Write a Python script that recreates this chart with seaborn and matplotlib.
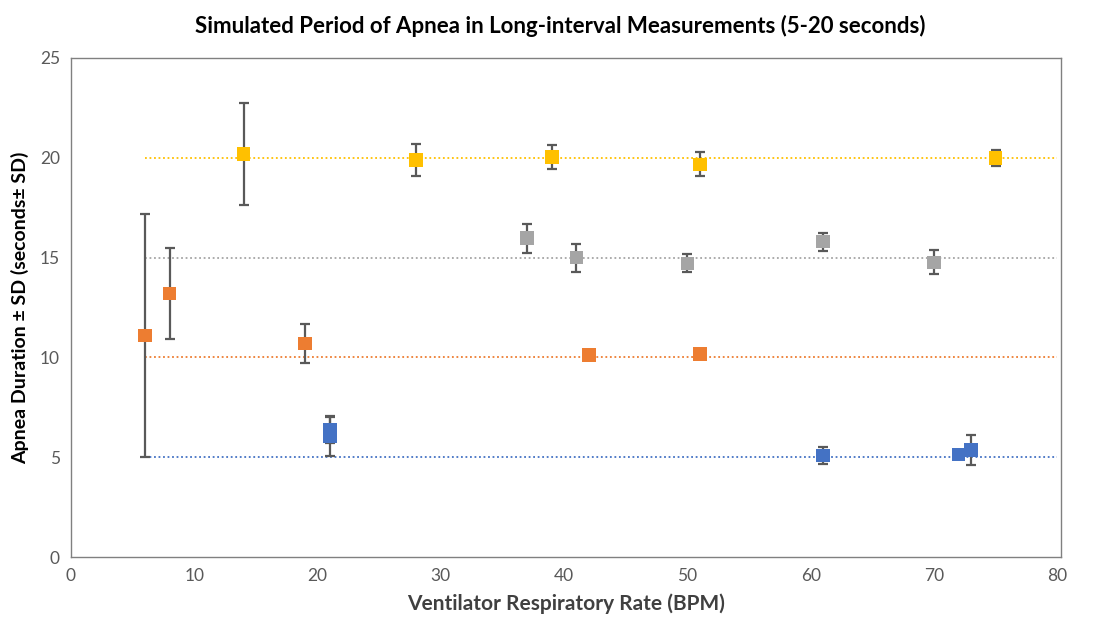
import matplotlib
matplotlib.use("Agg")
import matplotlib.pyplot as plt
import seaborn as sns
import pandas as pd

# Data
series_names = ["5 s", "10 s", "15 s", "20 s"]
series_colors = ["#4472C4", "#ED7D31", "#A5A5A5", "#FFC000"]

blue_x = [21, 21, 61, 72, 73]
blue_y = [6.35, 6.05, 5.08, 5.14, 5.36]
blue_sd = [0.65, 1.0, 0.42, 0.0, 0.75]

orange_x = [6, 8, 19, 42, 51]
orange_y = [11.1, 13.2, 10.7, 10.12, 10.17]
orange_sd = [6.08, 2.3, 0.98, 0.0, 0.25]

gray_x = [37, 41, 50, 61, 70]
gray_y = [15.97, 15.0, 14.71, 15.8, 14.76]
gray_sd = [0.72, 0.7, 0.45, 0.45, 0.6]

yellow_x = [14, 28, 39, 51, 75]
yellow_y = [20.2, 19.9, 20.05, 19.67, 19.98]
yellow_sd = [2.55, 0.8, 0.6, 0.6, 0.4]

target_levels = [5, 10, 15, 20]
target_x = [6, 80]

x_ticks = [0, 10, 20, 30, 40, 50, 60, 70, 80]
y_ticks = [0, 5, 10, 15, 20, 25]

title = "Simulated Period of Apnea in Long-interval Measurements (5-20 seconds)"
xlabel = "Ventilator Respiratory Rate (BPM)"
ylabel = "Apnea Duration ± SD (seconds± SD)"

sns.set_theme(style="white")
plt.rcParams['font.family'] = ['Lato', 'DejaVu Sans']

fig = plt.figure(figsize=(11.08, 6.21), dpi=100)
ax = fig.add_axes([71/1108, 1-557/621, (1061-71)/1108, (557-58)/621])

rows = []
for name, xs, ys, sds in zip(series_names,
                             [blue_x, orange_x, gray_x, yellow_x],
                             [blue_y, orange_y, gray_y, yellow_y],
                             [blue_sd, orange_sd, gray_sd, yellow_sd]):
    for x, y, s in zip(xs, ys, sds):
        rows.append({"series": name, "x": x, "y": y, "sd": s})
df = pd.DataFrame(rows)

ref_rows = []
for name, lvl in zip(series_names, target_levels):
    for x in target_x:
        ref_rows.append({"series": name, "x": x, "y": lvl})
ref = pd.DataFrame(ref_rows)

palette = dict(zip(series_names, series_colors))

sns.lineplot(data=ref, x="x", y="y", hue="series", palette=palette,
             linestyle=(0, (1, 1.5)), linewidth=1.3, legend=False, ax=ax, zorder=1)

# error bars
ax.errorbar(df["x"], df["y"], yerr=df["sd"], fmt="none", ecolor="#595959",
            elinewidth=1.6, capsize=3.5, capthick=1.6, zorder=2)

sns.scatterplot(data=df, x="x", y="y", hue="series", palette=palette,
                marker="s", s=95, edgecolor="none", linewidth=0,
                legend=False, ax=ax, zorder=3)

ax.set_xlim(0, 80.3)
ax.set_ylim(0, 25)
ax.set_xticks(x_ticks)
ax.set_yticks(y_ticks)
ax.tick_params(axis="both", length=0, labelsize=12.5, labelcolor="#595959", pad=8)
for sp in ax.spines.values():
    sp.set_color("#808080")
    sp.set_linewidth(1.0)

ax.set_xlabel(xlabel, fontsize=15, fontweight="bold", color="#404040", labelpad=7)
ax.set_ylabel(ylabel, fontsize=14, fontweight="bold", color="#000000", labelpad=8)
fig.text(0.506, 0.958, title, ha="center", va="center", fontsize=16,
         fontweight="bold", color="#000000")

fig.savefig("out.png", dpi=100, facecolor="white")
